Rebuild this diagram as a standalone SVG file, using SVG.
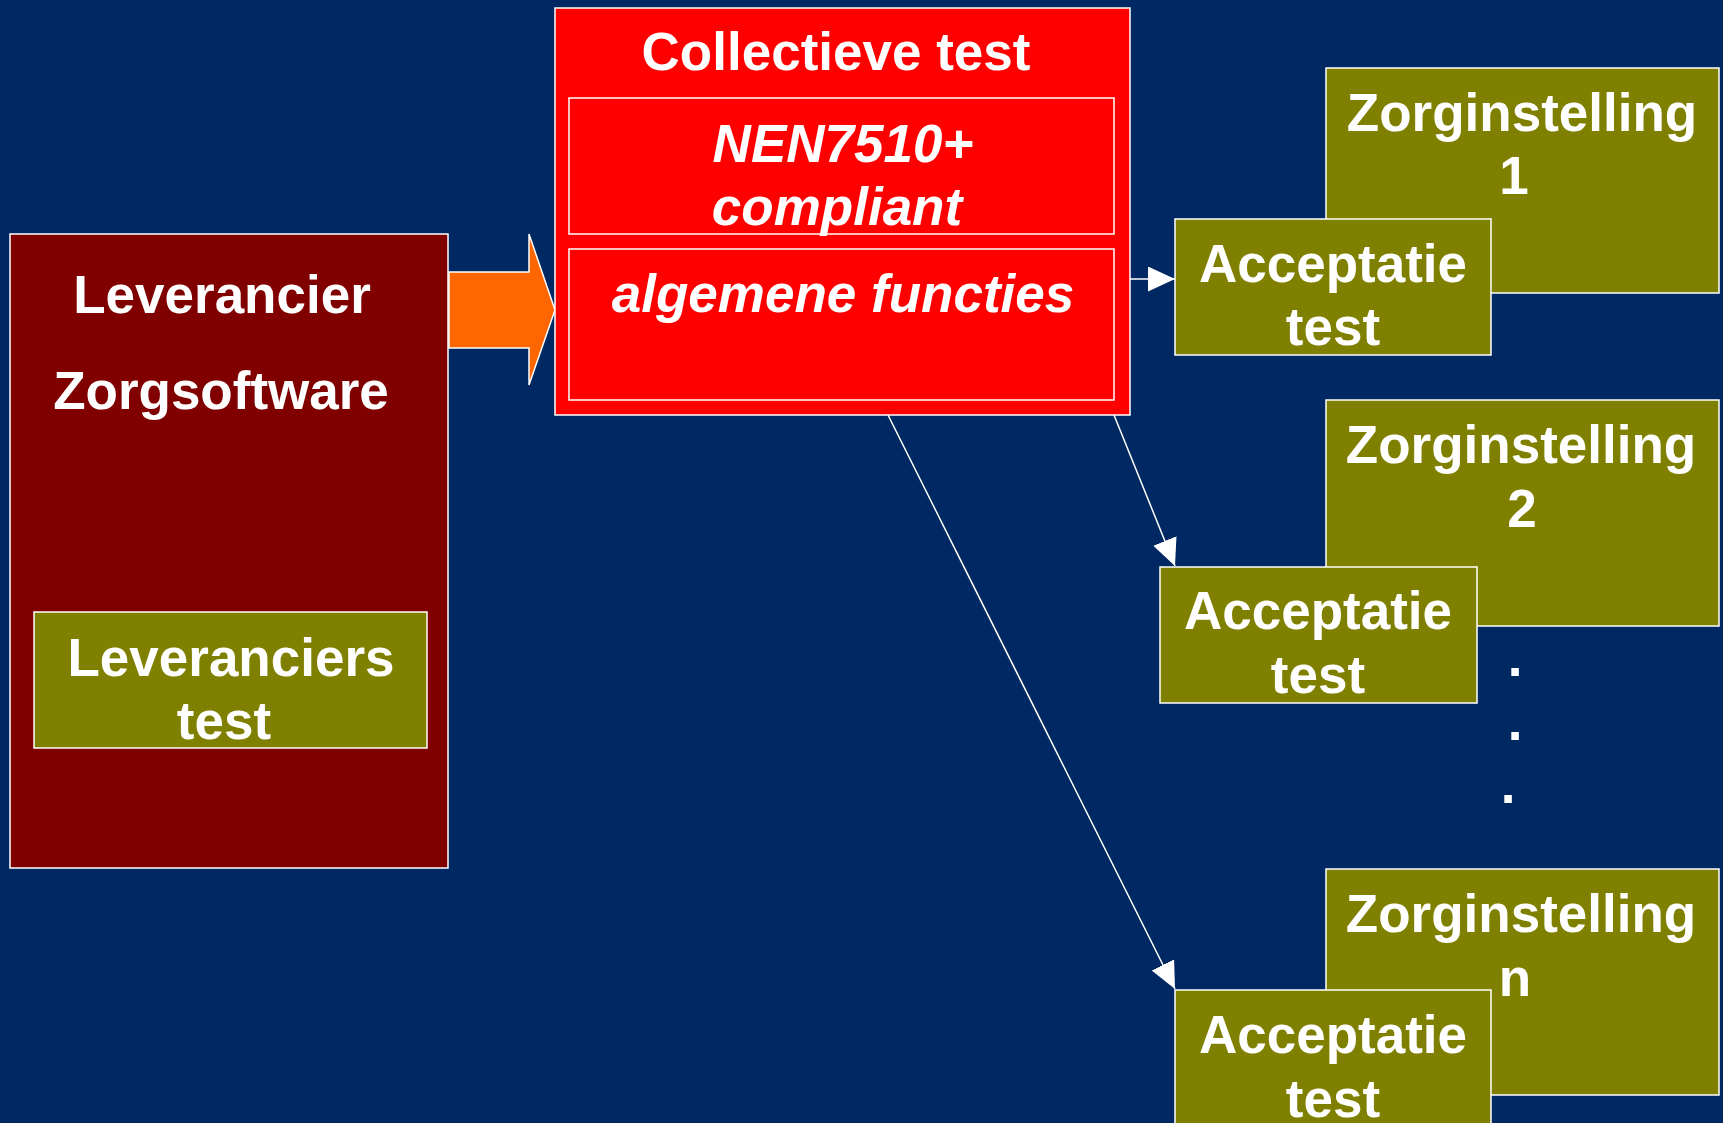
<svg xmlns="http://www.w3.org/2000/svg" width="1723" height="1123" viewBox="0 0 1723 1123">
<style>
.box{stroke:#FFFFFF;stroke-width:1.5}
.maroon{fill:#800000}
.olive{fill:#808000}
.red{fill:#FF0000}
.t{font-family:"Liberation Sans",Arial,sans-serif;font-weight:bold;font-size:53px;fill:#FFFFFF;text-anchor:middle}
.i{font-style:italic}
.conn{stroke:#FFFFFF;stroke-width:1.5;fill:none}
</style>
<defs>
<marker id="ah" markerUnits="userSpaceOnUse" markerWidth="28" markerHeight="26" refX="27" refY="12.5" orient="auto">
<path d="M0,0 L27,12.5 L0,25 z" fill="#FFFFFF"/>
</marker>
</defs>
<rect x="0" y="0" width="1723" height="1123" fill="#002862"/>

<g id="leverancier">
<rect class="box maroon" x="10" y="234" width="438" height="634"/>
<text class="t" x="222" y="313">Leverancier</text>
<text class="t" x="221" y="409">Zorgsoftware</text>
</g>
<g id="leverancierstest">
<rect class="box olive" x="34" y="612" width="393" height="136"/>
<text class="t" x="231" y="676">Leveranciers</text>
<text class="t" x="224" y="739">test</text>
</g>

<g id="orange-arrow">
<path d="M449,272 L529,272 L529,234 L555,310 L529,385 L529,348 L449,348 z" fill="#FF6600" stroke="#FFFFFF" stroke-width="1.5"/>
</g>

<g id="collectieve">
<rect class="box red" x="555" y="8" width="575" height="407"/>
<text class="t" x="836" y="70">Collectieve test</text>
</g>
<g id="nen">
<rect class="box red" x="569" y="98" width="545" height="136"/>
<text class="t i" x="843" y="162">NEN7510+</text>
<text class="t i" x="837" y="225">compliant</text>
</g>
<g id="algemene">
<rect class="box red" x="569" y="249" width="545" height="151"/>
<text class="t i" x="843" y="312">algemene functies</text>
</g>

<g id="zorg1">
<rect class="box olive" x="1326" y="68" width="393" height="225"/>
<text class="t" x="1522" y="131">Zorginstelling</text>
<text class="t" x="1514" y="194">1</text>
</g>
<g id="accept1">
<rect class="box olive" x="1175" y="219" width="316" height="136"/>
<text class="t" x="1333" y="282">Acceptatie</text>
<text class="t" x="1333" y="345">test</text>
</g>

<g id="zorg2">
<rect class="box olive" x="1326" y="400" width="393" height="226"/>
<text class="t" x="1521" y="463">Zorginstelling</text>
<text class="t" x="1522" y="527">2</text>
</g>
<g id="accept2">
<rect class="box olive" x="1160" y="567" width="317" height="136"/>
<text class="t" x="1318" y="629">Acceptatie</text>
<text class="t" x="1318" y="693">test</text>
</g>

<g id="dots">
<text class="t" x="1515" y="676">.</text>
<text class="t" x="1515" y="740">.</text>
<text class="t" x="1508" y="803">.</text>
</g>

<g id="zorgn">
<rect class="box olive" x="1326" y="869" width="393" height="226"/>
<text class="t" x="1521" y="932">Zorginstelling</text>
<text class="t" x="1515" y="996">n</text>
</g>
<g id="acceptn">
<rect class="box olive" x="1175" y="990" width="316" height="140"/>
<text class="t" x="1333" y="1053">Acceptatie</text>
<text class="t" x="1333" y="1117">test</text>
</g>

<g id="connectors">
<line class="conn" x1="1130" y1="279" x2="1175" y2="279" marker-end="url(#ah)"/>
<line class="conn" x1="1114" y1="415" x2="1175" y2="566" marker-end="url(#ah)"/>
<line class="conn" x1="888" y1="415" x2="1175" y2="989" marker-end="url(#ah)"/>
</g>
</svg>
